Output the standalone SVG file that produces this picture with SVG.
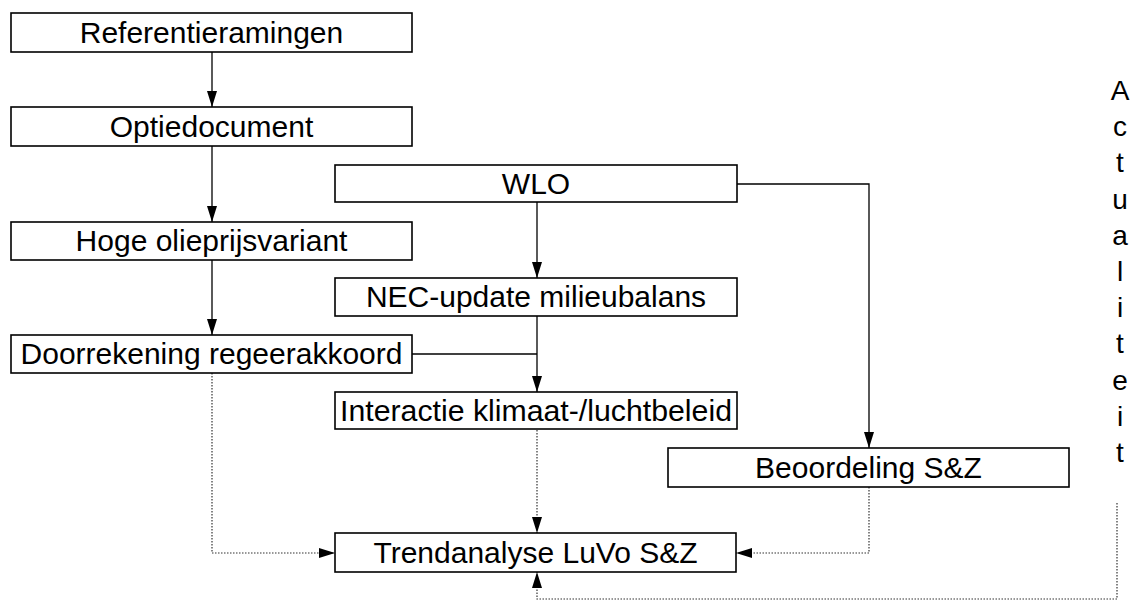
<svg xmlns="http://www.w3.org/2000/svg" width="1133" height="601" viewBox="0 0 1133 601">
<defs>
<style>
.box{fill:#fff;stroke:#000;stroke-width:1.6}
.lbl{font-family:"Liberation Sans",Arial,sans-serif;font-size:30px;text-anchor:middle;fill:#000}
.ln{fill:none;stroke:#000;stroke-width:1.3}
.dot{fill:none;stroke:#333;stroke-width:1.2;stroke-dasharray:1.5 1.5}
.act{font-family:"Liberation Sans",Arial,sans-serif;font-size:28px;text-anchor:middle;fill:#000}
</style>
<marker id="arr" markerUnits="userSpaceOnUse" markerWidth="17" markerHeight="11" refX="16" refY="5" orient="auto">
<path d="M0,0 L16,5 L0,10 z" fill="#000"/>
</marker>
</defs>
<rect width="1133" height="601" fill="#fff"/>
<g id="connectors">
<path class="ln" d="M212,52 V107" marker-end="url(#arr)"/>
<path class="ln" d="M212,146 V222" marker-end="url(#arr)"/>
<path class="ln" d="M212,260 V335" marker-end="url(#arr)"/>
<path class="ln" d="M537,202 V278" marker-end="url(#arr)"/>
<path class="ln" d="M537,316 V392" marker-end="url(#arr)"/>
<path class="ln" d="M412,354 H537"/>
<path class="ln" d="M737,184 H869 V448" marker-end="url(#arr)"/>
<path class="dot" d="M212,373 V553 H335" marker-end="url(#arr)"/>
<path class="dot" d="M537,430 V533" marker-end="url(#arr)"/>
<path class="dot" d="M869,487 V553 H736" marker-end="url(#arr)"/>
<path class="dot" d="M1117,503 V599 H537 V572" marker-end="url(#arr)"/>
</g>
<g id="n-referentieramingen"><rect class="box" x="11" y="13" width="401" height="39"/><text class="lbl" x="211.5" y="42.5">Referentieramingen</text></g>
<g id="n-optiedocument"><rect class="box" x="11" y="107" width="401" height="39"/><text class="lbl" x="211.5" y="136.5">Optiedocument</text></g>
<g id="n-hoge"><rect class="box" x="11" y="222" width="401" height="38"/><text class="lbl" x="211.5" y="251">Hoge olieprijsvariant</text></g>
<g id="n-doorrekening"><rect class="box" x="11" y="335" width="401" height="38"/><text class="lbl" x="211.5" y="364">Doorrekening regeerakkoord</text></g>
<g id="n-wlo"><rect class="box" x="335" y="165" width="402" height="37"/><text class="lbl" x="536" y="193.5">WLO</text></g>
<g id="n-nec"><rect class="box" x="335" y="278" width="402" height="38"/><text class="lbl" x="536" y="307">NEC-update milieubalans</text></g>
<g id="n-interactie"><rect class="box" x="335" y="392" width="402" height="37"/><text class="lbl" x="536" y="420.5" textLength="392" lengthAdjust="spacingAndGlyphs">Interactie klimaat-/luchtbeleid</text></g>
<g id="n-beoordeling"><rect class="box" x="668" y="448" width="401" height="39"/><text class="lbl" x="868.5" y="477.5">Beoordeling S&amp;Z</text></g>
<g id="n-trendanalyse"><rect class="box" x="335" y="533" width="401" height="39"/><text class="lbl" x="535.5" y="562.5">Trendanalyse LuVo S&amp;Z</text></g>
<g id="n-actualiteit">
<text class="act" x="1120" y="100">A</text>
<text class="act" x="1120" y="136">c</text>
<text class="act" x="1120" y="172">t</text>
<text class="act" x="1120" y="209">u</text>
<text class="act" x="1120" y="245">a</text>
<text class="act" x="1120" y="281">l</text>
<text class="act" x="1120" y="317">i</text>
<text class="act" x="1120" y="353">t</text>
<text class="act" x="1120" y="390">e</text>
<text class="act" x="1120" y="426">i</text>
<text class="act" x="1120" y="462">t</text>
</g>
</svg>
